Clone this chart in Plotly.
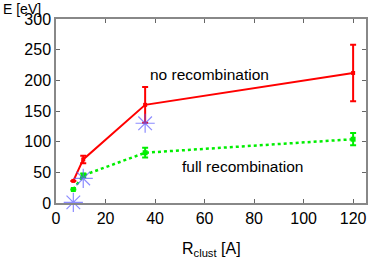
import plotly.graph_objects as go

r_no = [7, 11, 36, 120]
e_no = [36, 71, 160, 212]
err_no = [0, 6, 29, 46]

r_full = [7, 11, 36, 120]
e_full = [22, 45, 82, 104]
err_full = [0, 3, 8, 10]

r_star = [7, 11, 36]
e_star = [1, 40, 130]

x_ticks = [0, 20, 40, 60, 80, 100, 120]
y_ticks = [0, 50, 100, 150, 200, 250, 300]

fig = go.Figure()
fig.add_trace(go.Scatter(
    x=r_no, y=e_no, mode="lines+markers",
    line=dict(color="#ff0000", width=2),
    marker=dict(symbol="square", size=4, color="#ff0000"),
    error_y=dict(type="data", array=err_no, color="#ff0000", thickness=2, width=3),
    showlegend=False, cliponaxis=False))
fig.add_trace(go.Scatter(
    x=r_full, y=e_full, mode="lines+markers",
    line=dict(color="#00ee00", width=2.5, dash="dot"),
    marker=dict(symbol="square", size=5, color="#00ee00"),
    error_y=dict(type="data", array=err_full, color="#00ee00", thickness=2, width=3),
    showlegend=False, cliponaxis=False))
fig.add_trace(go.Scatter(
    x=r_star, y=e_star, mode="markers",
    marker=dict(symbol="asterisk-open", size=16, color="rgba(90,90,255,0.7)",
                line=dict(color="rgba(90,90,255,0.7)", width=1.2)),
    showlegend=False, cliponaxis=False))

fig.add_annotation(x=61.8, y=209, text="no recombination", showarrow=False,
                   font=dict(size=15.5, color="black"))
fig.add_annotation(x=75.2, y=59, text="full recombination", showarrow=False,
                   font=dict(size=15.5, color="black"))
fig.add_annotation(xref="paper", yref="paper", x=-0.175, y=1.103, xanchor="left",
                   yanchor="top", text="E [eV]", showarrow=False, borderpad=0,
                   font=dict(size=14, color="black"))
fig.add_annotation(xref="paper", yref="paper", x=0.50, y=-0.25, xanchor="center",
                   yanchor="middle", text="R<sub>clust</sub> [A]", showarrow=False,
                   font=dict(size=16, color="black"))

fig.update_layout(
    width=382, height=267,
    margin=dict(l=56, r=16, t=19, b=64, autoexpand=False),
    paper_bgcolor="white", plot_bgcolor="white",
    font=dict(family="Liberation Sans, Arial, sans-serif", size=16, color="black"),
)
fig.update_xaxes(range=[0, 125.2], tickvals=x_ticks, ticks="inside", ticklen=4,
                 tickcolor="#666", showline=True, linecolor="#888", linewidth=1.5,
                 mirror="ticks", showgrid=False, zeroline=False, automargin=False)
fig.update_yaxes(range=[0, 300], tickvals=y_ticks, ticks="inside", ticklen=4,
                 tickcolor="#666", showline=True, linecolor="#888", linewidth=1.5,
                 mirror="ticks", showgrid=False, zeroline=True, zerolinecolor="#222",
                 zerolinewidth=1.5, automargin=False)

fig.write_html("out.html", config={"displayModeBar": False},
               post_script="document.body.style.margin='0';document.body.style.overflow='hidden';")
